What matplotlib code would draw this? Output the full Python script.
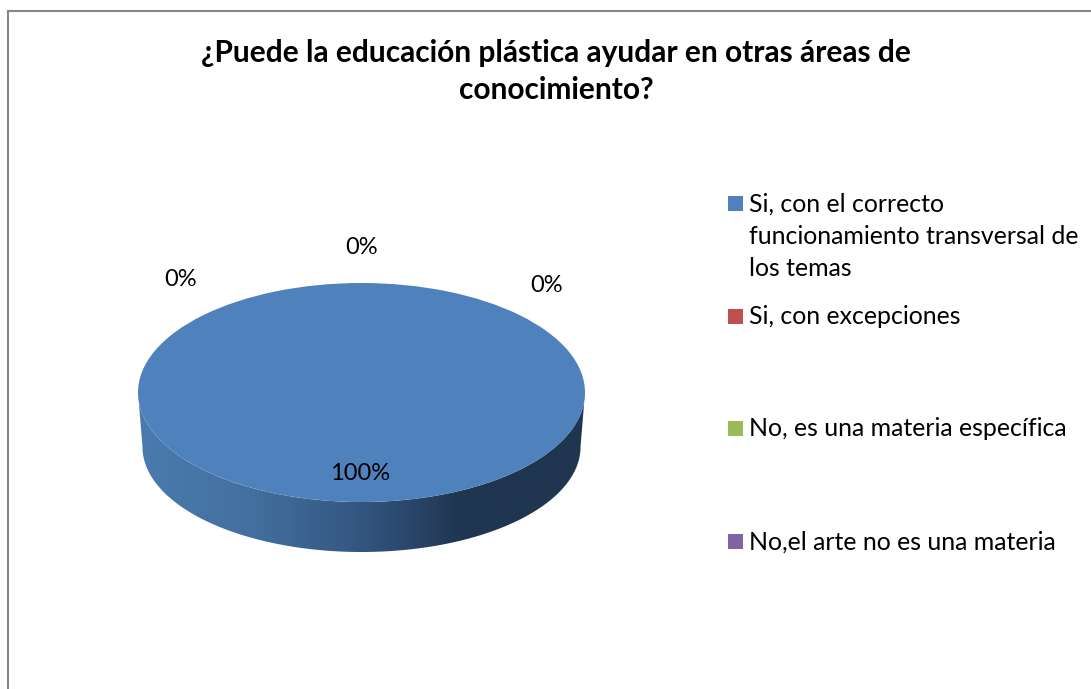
import numpy as np
import matplotlib
matplotlib.use('Agg')
import matplotlib.pyplot as plt
from matplotlib.colors import LinearSegmentedColormap
from matplotlib.patches import Polygon, Rectangle

plt.rcParams['font.family'] = ['Lato', 'DejaVu Sans']

W, H = 1091, 689

TITLE = '¿Puede la educación plástica ayudar en otras áreas de\nconocimiento?'
categories = [
    'Si, con el correcto\nfuncionamiento transversal de\nlos temas',
    'Si, con excepciones',
    'No, es una materia específica',
    'No,el arte no es una materia',
]
values = [100, 0, 0, 0]
colors = ['#4f81bd', '#c0504d', '#9bbb59', '#8064a2']

# pixel layout of the labels and legend
label_pos = [(360, 473), (547, 286), (362, 248), (181, 280)]
legend_y = [203, 316, 428, 541]

fig = plt.figure(figsize=(W / 100, H / 100), dpi=100)
bg = fig.add_axes([0, 0, 1, 1])
bg.set_xlim(0, W)
bg.set_ylim(H, 0)
bg.axis('off')

# chart frame
bg.plot([7.5, 7.5, W], [H, 11, 11], color='#868686', lw=1.5, solid_joinstyle='miter')

# side of the 3d pie: gradient clipped to the rim shape
cx, cy, rx, ry = 361.5, 392.5, 223.5, 109.5
bx, by, brx, bry = 361.5, 447, 219, 105
t = np.linspace(np.pi, 0, 200)
top_edge = np.column_stack([cx + rx * np.cos(t), cy + ry * np.sin(t)])
bot_edge = np.column_stack([bx + brx * np.cos(t), by + bry * np.sin(t)])
rim = Polygon(np.vstack([top_edge, bot_edge[::-1]]), closed=True, fc='none', ec='none')
bg.add_patch(rim)
side_cmap = LinearSegmentedColormap.from_list('side', [
    (0.0, '#4a7aaf'), (0.25, '#43709f'), (0.5, '#335680'),
    (0.66, '#263f60'), (0.72, '#1f3550'), (1.0, '#1f3550')])
img = bg.imshow(np.linspace(0, 1, 256)[None, :], cmap=side_cmap, aspect='auto',
                extent=(cx - rx, cx + rx, by + bry, cy), zorder=1)
img.set_clip_path(rim)
bg.set_xlim(0, W)
bg.set_ylim(H, 0)

# top of the pie
ax = fig.add_axes([(cx - rx) / W, 1 - (cy + ry) / H, 2 * rx / W, 2 * ry / H])
ax.pie(values, colors=colors, startangle=90, counterclock=False, radius=1)
ax.set_aspect('auto')
ax.set_xlim(-1, 1)
ax.set_ylim(-1, 1)
ax.patch.set_visible(False)

# overlay for text so it sits above the pie
fg = fig.add_axes([0, 0, 1, 1])
fg.set_xlim(0, W)
fg.set_ylim(H, 0)
fg.axis('off')

fg.text(556, 71.5, TITLE, ha='center', va='center', fontsize=21.5, fontweight='bold',
        color='black', linespacing=1.4)

for v, (x, y) in zip(values, label_pos):
    fg.text(x, y, f'{v}%', ha='center', va='center', fontsize=17, color='black')

for name, col, y in zip(categories, colors, legend_y):
    fg.add_patch(Rectangle((728, y - 7.5), 15, 15, fc=col, ec='none'))
    fg.text(749, y - 10.5, name, ha='left', va='top', fontsize=17.9, color='black', linespacing=1.49)

fig.savefig('out.png', dpi=100)
